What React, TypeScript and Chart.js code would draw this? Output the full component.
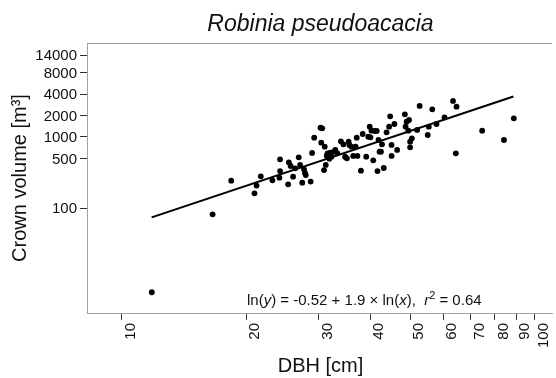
import React, { useEffect, useRef } from "react";
import { Chart, registerables } from "chart.js";

Chart.register(...registerables);

// ---- data ----
const dbh = [
  11.81, 16.58, 18.39, 20.94, 21.18, 21.69, 23.14, 24.15, 24.15, 24.06,
  25.26, 25.36, 25.61, 25.97, 26.27, 26.8, 27.01, 27.33, 27.6, 27.76,
  27.87, 28.64, 28.87, 29.21, 30.26, 30.55, 30.38, 30.86, 30.98, 31.16,
  31.34, 31.47, 31.78, 31.97, 32.16, 32.6, 32.86, 33.25, 33.9, 34.37,
  34.71, 35.05, 35.4, 35.53, 35.95, 36.31, 36.81, 37.03, 37.17, 37.91,
  38.28, 39.04, 39.5, 39.81, 39.97, 40.21, 40.6, 41.01, 41.4, 41.57,
  41.81, 42.06, 42.39, 42.64, 43.05, 43.74, 44.36, 44.62, 44.97, 44.97,
  45.68, 46.39, 48.43, 48.62, 48.91, 49.38, 49.57, 49.87, 50.36, 51.86,
  52.59, 55.01, 55.34, 56.43, 57.77, 60.42, 63.34, 64.35, 64.6, 74.52,
  84.16, 88.91, 49.87,
];
const crownVolume = [
  6.64, 82.4, 244, 162, 208, 281, 247, 486, 333, 269,
  217, 441, 392, 278, 364, 519, 405, 229, 352, 310,
  293, 237, 597, 979, 1352, 1322, 833, 344, 731, 405,
  547, 590, 497, 603, 530, 622, 658, 590, 869, 789,
  530, 502, 860, 773, 731, 542, 731, 979, 542, 337,
  1102, 530, 1011, 1396, 989, 1227, 471, 1214, 1214, 333,
  907, 622, 622, 789, 367, 1162, 1396, 1950, 542, 773,
  1521, 658, 2080, 1396, 1641, 1227, 1730, 716, 957, 1254,
  2722, 1067, 1396, 2444, 1521, 1887, 3199, 590, 2660, 1227,
  907, 1827, 860,
];
const fitDbh = [11.8, 88.7];
const fitVolume = [74.5, 3690];

const xTicks = [10, 20, 30, 40, 50, 60, 70, 80, 90, 100];
const yTicks = [100, 500, 1000, 2000, 4000, 8000, 14000];

const titleText = "Robinia pseudoacacia";
const xTitle = "DBH [cm]";
const yTitle = "Crown volume [m³]";

const X_MIN = 8.23;
const X_MAX = 110;
const Y_MIN = 3.4;
const Y_MAX = 20800;

const FONT = '"Liberation Sans", Arial, Helvetica, sans-serif';

const textPlugin = {
  id: "textPlugin",
  afterDraw(chart: any) {
    const ctx: CanvasRenderingContext2D = chart.ctx;
    const { left, top, right, bottom } = chart.chartArea;
    const xs = chart.scales.x;
    const ys = chart.scales.y;
    ctx.save();
    // top frame line
    ctx.strokeStyle = "#a0a0a0";
    ctx.lineWidth = 1;
    ctx.beginPath();
    ctx.moveTo(left, top + 0.5);
    ctx.lineTo(right, top + 0.5);
    ctx.stroke();

    ctx.fillStyle = "#111";
    // y tick labels
    ctx.font = `15px ${FONT}`;
    ctx.textAlign = "right";
    ctx.textBaseline = "middle";
    yTicks.forEach((v) => {
      ctx.fillText(String(v), left - 10, ys.getPixelForValue(v) + 1);
    });
    // x tick labels (rotated)
    xTicks.forEach((v) => {
      ctx.save();
      ctx.translate(xs.getPixelForValue(v) + 1, bottom + 10);
      ctx.rotate(-Math.PI / 2);
      ctx.textAlign = "right";
      ctx.textBaseline = "top";
      ctx.fillText(String(v), 0, 0);
      ctx.restore();
    });

    // title
    ctx.font = `italic 23px ${FONT}`;
    ctx.textAlign = "center";
    ctx.textBaseline = "alphabetic";
    ctx.fillText(titleText, (left + right) / 2 + 1, 31);

    // x title
    ctx.font = `20px ${FONT}`;
    ctx.fillText(xTitle, (left + right) / 2 + 1, 372);

    // y title
    ctx.save();
    ctx.translate(26, 178);
    ctx.rotate(-Math.PI / 2);
    ctx.textAlign = "center";
    ctx.textBaseline = "alphabetic";
    ctx.fillText(yTitle, 0, 0);
    ctx.restore();

    // equation annotation
    const parts: [string, string][] = [
      ["ln(", "n"],
      ["y", "i"],
      [") = -0.52 + 1.9 × ln(", "n"],
      ["x", "i"],
      ["),  ", "n"],
      ["r", "i"],
      ["2", "s"],
      [" = 0.64", "n"],
    ];
    const fontFor = (k: string) =>
      k === "i" ? `italic 15px ${FONT}` : k === "s" ? `11px ${FONT}` : `15px ${FONT}`;
    ctx.textAlign = "left";
    let x = 247;
    const base = 305;
    parts.forEach(([t, k]) => {
      ctx.font = fontFor(k);
      ctx.fillText(t, x, k === "s" ? base - 6 : base);
      x += ctx.measureText(t).width;
    });
    ctx.restore();
  },
};

export default function App() {
  const ref = useRef<HTMLCanvasElement | null>(null);
  useEffect(() => {
    if (!ref.current) return;
    const chart = new Chart(ref.current, {
      type: "scatter",
      data: {
        datasets: [
          {
            label: "trees",
            data: dbh.map((d, i) => ({ x: d, y: crownVolume[i] })),
            backgroundColor: "#000",
            borderColor: "#000",
            borderWidth: 0,
            pointRadius: 2.9,
            showLine: false,
          },
          {
            label: "fit",
            data: fitDbh.map((d, i) => ({ x: d, y: fitVolume[i] })),
            showLine: true,
            borderColor: "#000",
            borderWidth: 2,
            pointRadius: 0,
            fill: false,
          },
        ],
      },
      options: {
        responsive: false,
        animation: false,
        devicePixelRatio: 1,
        layout: { padding: { top: 43, left: 0, right: 0, bottom: 0 } },
        plugins: {
          legend: { display: false },
          tooltip: { enabled: false },
          title: { display: false },
        },
        scales: {
          x: {
            type: "logarithmic",
            min: X_MIN,
            max: X_MAX,
            afterBuildTicks: (s: any) => {
              s.ticks = xTicks.map((v) => ({ value: v }));
            },
            afterFit: (s: any) => {
              s.height = 65;
            },
            ticks: { display: false },
            grid: {
              drawOnChartArea: false,
              drawTicks: true,
              tickLength: 7,
              tickColor: "#333",
              color: "#333",
            },
            border: { display: true, color: "#a0a0a0" },
          },
          y: {
            type: "logarithmic",
            min: Y_MIN,
            max: Y_MAX,
            afterBuildTicks: (s: any) => {
              s.ticks = yTicks.map((v) => ({ value: v }));
            },
            afterFit: (s: any) => {
              s.width = 87;
            },
            ticks: { display: false },
            grid: {
              drawOnChartArea: false,
              drawTicks: true,
              tickLength: 7,
              tickColor: "#333",
              color: "#333",
            },
            border: { display: true, color: "#a0a0a0" },
          },
        },
      } as any,
      plugins: [textPlugin],
    });
    return () => chart.destroy();
  }, []);
  return (
    <div style={{ position: "fixed", left: 0, top: 0, width: 556, height: 378, background: "#fff" }}>
      <canvas ref={ref} width={556} height={378} style={{ display: "block" }} />
    </div>
  );
}
